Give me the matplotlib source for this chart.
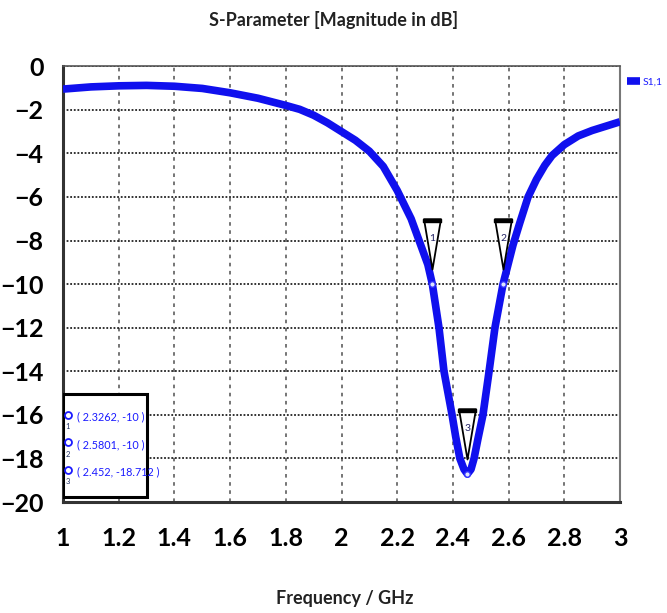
import numpy as np
import matplotlib
matplotlib.use('Agg')
import matplotlib.pyplot as plt
from matplotlib.path import Path
from matplotlib.patches import Rectangle

# S11
freq = [1.0, 1.1, 1.2, 1.3, 1.4, 1.5, 1.6, 1.7, 1.8, 1.85, 1.9, 1.95, 2.0,
        2.05, 2.1, 2.15, 2.2, 2.25, 2.29, 2.31, 2.3262, 2.35, 2.368, 2.397,
        2.41, 2.425, 2.44, 2.452, 2.465, 2.476, 2.49, 2.508, 2.53, 2.551,
        2.5801, 2.6, 2.616, 2.64, 2.67, 2.7, 2.73, 2.756, 2.8, 2.85, 2.9,
        2.95, 3.0]
s11 = [-1.05, -0.95, -0.9, -0.88, -0.92, -1.02, -1.22, -1.47, -1.8, -1.98,
       -2.25, -2.6, -3.0, -3.4, -3.9, -4.6, -5.7, -7.0, -8.4, -9.1, -10.0,
       -12.0, -14.0, -16.0, -17.0, -18.0, -18.5, -18.712, -18.5, -18.0,
       -17.1, -16.0, -14.0, -12.0, -10.0, -9.0, -8.2, -7.2, -6.0, -5.2,
       -4.55, -4.1, -3.6, -3.2, -2.95, -2.75, -2.55]

mk_freq = [2.3262, 2.5801, 2.452]
mk_val = [-10, -10, -18.712]
mk_txt = ['2.3262', '2.5801', '2.452']
mk_ids = ['1', '2', '3']

xticks = [1, 1.2, 1.4, 1.6, 1.8, 2, 2.2, 2.4, 2.6, 2.8, 3]
xtick_labels = ['1', '1.2', '1.4', '1.6', '1.8', '2', '2.2', '2.4', '2.6', '2.8', '3']
yticks = list(range(0, -21, -2))

plt.rcParams['font.family'] = ['Lato', 'DejaVu Sans']

fig = plt.figure(figsize=(6.67, 6.13), dpi=100)
ax = fig.add_axes([0.0945, 0.181, 0.835, 0.711])

ax.plot(freq, s11, color='#1010ee', lw=5.5, solid_capstyle='butt', label='S1,1', zorder=3)

ax.set_xlim(1, 3)
ax.set_ylim(-20, 0)
ax.set_xticks(xticks)
ax.set_xticklabels(xtick_labels)
ax.set_yticks(yticks)
ax.tick_params(axis='y', length=0, labelsize=18, pad=14)
ax.tick_params(axis='x', length=0, labelsize=18, pad=18)
for lab in ax.get_xticklabels() + ax.get_yticklabels():
    lab.set_fontweight('bold')

# grid: dotted horizontals, dashed grey verticals
ax.grid(True, axis='y', color='#222222', ls=(0, (1, 1)), lw=1.3)
ax.grid(True, axis='x', color='#6a6a6a', linestyle='--', lw=1.3, dashes=(2, 2.5))
ax.set_axisbelow(True)

for s in ['left', 'bottom']:
    ax.spines[s].set_linewidth(2.2)
    ax.spines[s].set_color('#333333')
ax.spines['top'].set_linewidth(1.2)
ax.spines['top'].set_color('#555555')
ax.spines['right'].set_linewidth(1.5)
ax.spines['right'].set_color('#777777')
ax.spines['right'].set_linestyle((0, (2, 1)))

# marker triangles pointing down onto the curve
tri = Path([(-0.13, 1.0), (0.13, 1.0), (0.0, 0.23), (-0.13, 1.0)],
           [Path.MOVETO, Path.LINETO, Path.LINETO, Path.CLOSEPOLY])
bar = Path([(-0.14, 1.0), (0.14, 1.0), (0.14, 0.95), (-0.14, 0.95), (-0.14, 1.0)],
           [Path.MOVETO, Path.LINETO, Path.LINETO, Path.LINETO, Path.CLOSEPOLY])
for f, v, i in zip(mk_freq, mk_val, mk_ids):
    ax.plot(f, v, marker=tri, ms=94, mfc='white', mec='black', mew=1.3,
            ls='none', zorder=5)
    ax.plot(f, v, marker=bar, ms=94, mfc='black', mec='black', mew=1.0,
            ls='none', zorder=6)
    ax.plot(f, v, marker='o', ms=4, mfc='#dde4ff', mec='#3030ff', mew=1,
            ls='none', zorder=6)
    ax.annotate(i, (f, v), xytext=(0, 33), textcoords='offset points',
                ha='center', va='center', fontsize=7.5, color='#222266', zorder=7)

# marker readout box
ax.add_patch(Rectangle((0.0, 0.012), 0.151, 0.235, transform=ax.transAxes,
                       facecolor='white', edgecolor='black', lw=2.2, zorder=8))
for k, (t, v, i) in enumerate(zip(mk_txt, mk_val, mk_ids)):
    yy = 0.195 - k * 0.063
    ax.text(0.025, yy, '( ' + t + ', ' + str(v) + ' )', transform=ax.transAxes,
            fontsize=7.8, color='#1a1aff', va='center', ha='left', zorder=9)
    ax.plot(0.009, yy + 0.005, marker='o', ms=5, mfc='none', mec='#1a1aff',
            mew=1.3, transform=ax.transAxes, zorder=9, clip_on=False)
    ax.text(0.009, yy - 0.022, i, transform=ax.transAxes, fontsize=5.5,
            color='#223366', ha='center', va='center', zorder=9)

leg = ax.legend(loc='upper left', bbox_to_anchor=(1.005, 0.985), frameon=False,
                handlelength=1.3, handletextpad=0.2, fontsize=7.5, borderaxespad=0)
for t in leg.get_texts():
    t.set_color('#1a1aff')

fig.text(0.5, 0.967, 'S-Parameter [Magnitude in dB]', ha='center', va='center',
         fontsize=13, fontweight='bold', color='#222222')
fig.text(0.517, 0.024, 'Frequency / GHz', ha='center', va='center',
         fontsize=13, fontweight='bold', color='#222222')

fig.savefig('out.png', dpi=100)
